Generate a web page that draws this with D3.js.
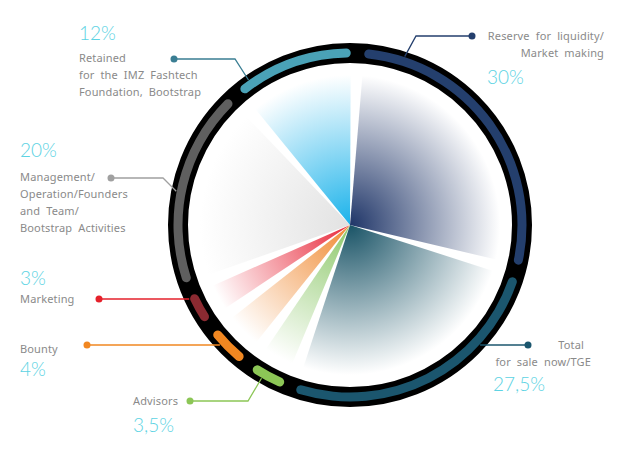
<!DOCTYPE html>
<html>
<head>
<meta charset="utf-8">
<script src="https://cdn.jsdelivr.net/npm/d3@7"></script>
<style>
  html, body { margin: 0; padding: 0; background: #fff; }
  .label { font-family: 'Noto Sans', sans-serif; font-size: 11px; fill: #8a8a8a; letter-spacing: 0.15px; word-spacing: 3px; }
  .pct { font-family: Lato, 'Open Sans', sans-serif; font-weight: 300; font-size: 19px; fill: #5cd3e3; }
</style>
</head>
<body>
<svg id="chart" width="641" height="451"></svg>
<script>
// Data
const categories = ['Reserve', 'Total', 'Advisors', 'Bounty', 'Marketing', 'Management', 'Retained']
const shares = [30, 27.5, 3.5, 4, 3, 20, 12]
const shareLabels = ['30%', '27,5%', '3,5%', '4%', '3%', '20%', '12%']
const labelLines = [
    ['Reserve for liquidity/', 'Market making'],
    ['Total', 'for sale now/TGE'],
    ['Advisors'],
    ['Bounty'],
    ['Marketing'],
    ['Management/', 'Operation/Founders', 'and Team/', 'Bootstrap Activities'],
    ['Retained', 'for the IMZ Fashtech', 'Foundation, Bootstrap']
]
const ringColors = ['#243f6d', '#1b566e', '#8cc656', '#f18721', '#8b2a31', '#5f5f5f', '#4aa2b7']
const sliceColors = ['#1f3568', '#1a5467', '#8dc86a', '#f08a33', '#e8283a', '#e2e2e2', '#1ab2ea']
const lineColors = ['#243f6d', '#1b566e', '#8cc656', '#f18721', '#e5212b', '#a0a0a0', '#3a7e93']

// Layout of callouts (dot, optional elbow x, ring angle, text blocks)
const callouts = [
    { dot: [472, 36], elbowX: 416, angle: 18, anchor: 'end', tx: 604, ty: 40, px: 487, py: 84 },
    { dot: [528, 345], elbowX: null, angle: null, anchor: 'end', tx: [584, 591], ty: 349, px: 493, py: 391 },
    { dot: [190, 401], elbowX: 248, angle: 210, anchor: 'start', tx: 133, ty: 405, px: 133, py: 432 },
    { dot: [87, 345], elbowX: null, angle: null, anchor: 'start', tx: 20, ty: 353, px: 20, py: 376 },
    { dot: [99, 299], elbowX: null, angle: null, anchor: 'start', tx: 20, ty: 303, px: 20, py: 285 },
    { dot: [111, 178], elbowX: 163, angle: 281, anchor: 'start', tx: 20, ty: 181, px: 20, py: 157 },
    { dot: [174, 59], elbowX: 235, angle: 325, anchor: 'start', tx: 79, ty: 62, px: 79, py: 40 }
]

const svg = d3.select('#chart')
const cx = 350, cy = 225
const ringR = 172
const anchorR = 177
const sliceR = 160
const padAngle = 4.5 * Math.PI / 180
const startAngle = 2.5 * Math.PI / 180

const data = categories.map((c, i) => ({ name: c, value: shares[i], i: i }))

const pie = d3.pie()
    .sort(null)
    .value(d => d.value)
    .startAngle(startAngle)
    .endAngle(startAngle + 2 * Math.PI)
    .padAngle(padAngle)

const arcs = pie(data)

// Trim the pad off each side so gaps open as wedges
const trimmed = arcs.map(a => ({
    data: a.data,
    startAngle: a.startAngle + a.padAngle / 2,
    endAngle: a.endAngle - a.padAngle / 2
}))

const defs = svg.append('defs')
sliceColors.forEach((col, i) => {
    const g = defs.append('radialGradient')
        .attr('id', `grad-${i}`)
        .attr('gradientUnits', 'userSpaceOnUse')
        .attr('cx', 0).attr('cy', 0).attr('r', 150)
    g.append('stop').attr('offset', '0%').attr('stop-color', col)
    g.append('stop').attr('offset', '100%').attr('stop-color', '#ffffff')
})

const root = svg.append('g').attr('transform', `translate(${cx},${cy})`)

// Black outer ring
root.append('circle')
    .attr('r', ringR)
    .attr('fill', '#fff')
    .attr('stroke', '#000')
    .attr('stroke-width', 20)

// Pie slices with fading gradients
const sliceArc = d3.arc().innerRadius(0).outerRadius(sliceR)
root.selectAll('path.slice')
    .data(trimmed)
    .join('path')
    .attr('class', 'slice')
    .attr('d', sliceArc)
    .attr('fill', d => `url(#grad-${d.data.i})`)

// Coloured ring segments with rounded ends
const ringArc = d3.arc()
    .innerRadius(ringR - 4.5)
    .outerRadius(ringR + 4.5)
    .cornerRadius(4.5)
root.selectAll('path.ring')
    .data(trimmed)
    .join('path')
    .attr('class', 'ring')
    .attr('d', ringArc)
    .attr('fill', d => ringColors[d.data.i])

// Leader lines
callouts.forEach((c, i) => {
    let end
    if (c.angle === null) {
        const dy = c.dot[1] - cy
        const dx = Math.sqrt(anchorR * anchorR - dy * dy)
        end = [c.dot[0] < cx ? cx - dx : cx + dx, c.dot[1]]
    } else {
        const p = d3.pointRadial(c.angle * Math.PI / 180, anchorR)
        end = [cx + p[0], cy + p[1]]
    }
    const pts = [c.dot]
    if (c.elbowX !== null) pts.push([c.elbowX, c.dot[1]])
    pts.push(end)

    svg.append('path')
        .attr('d', d3.line()(pts))
        .attr('fill', 'none')
        .attr('stroke', lineColors[i])
        .attr('stroke-width', 1.3)
    svg.append('circle')
        .attr('cx', c.dot[0]).attr('cy', c.dot[1])
        .attr('r', 3.5)
        .attr('fill', lineColors[i])

    const t = svg.append('text')
        .attr('class', 'label')
        .attr('text-anchor', c.anchor)
    labelLines[i].forEach((line, j) => {
        t.append('tspan')
            .attr('x', Array.isArray(c.tx) ? c.tx[j] : c.tx)
            .attr('y', c.ty + j * 17)
            .text(line)
    })

    svg.append('text')
        .attr('class', 'pct')
        .attr('x', c.px).attr('y', c.py)
        .text(shareLabels[i])
})
</script>
</body>
</html>
